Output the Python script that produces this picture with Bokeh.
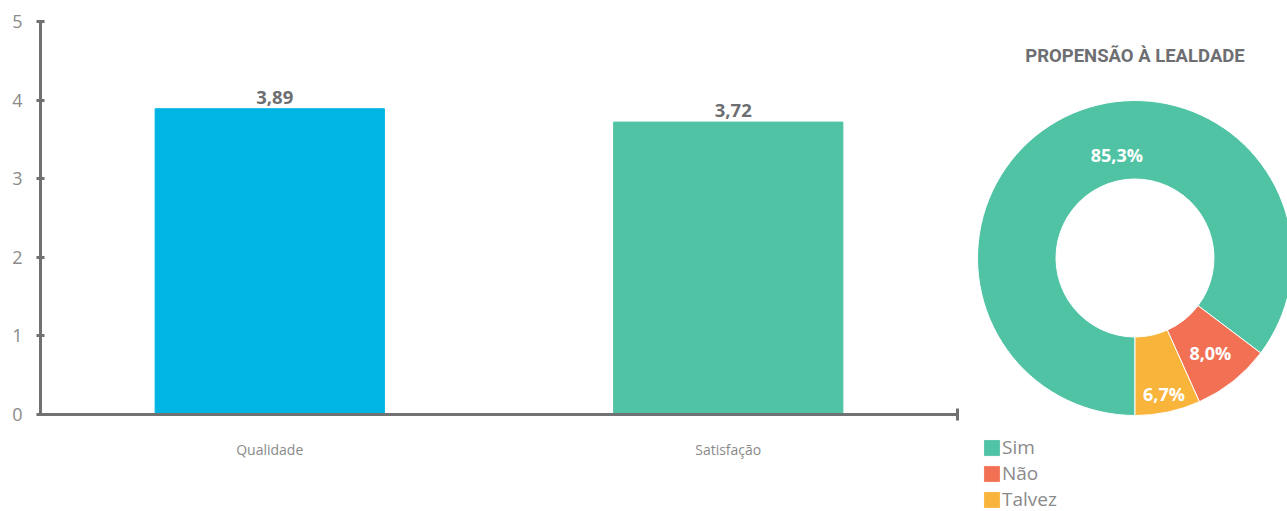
import numpy as np
from bokeh.plotting import figure
from bokeh.layouts import row, column
from bokeh.models import (Range1d, FixedTicker, ColumnDataSource, Label, Legend, LegendItem, LinearAxis)
from bokeh.core.properties import value
from bokeh.embed import file_html
from bokeh.resources import INLINE

# ---- data ----
categories = ["Qualidade", "Satisfação"]
scores = [3.89, 3.72]
y_ticks = [0, 1, 2, 3, 4, 5]

pie_title = "PROPENSÃO À LEALDADE"
pie_labels = ["Sim", "Não", "Talvez"]
pie_values = [85.3, 8.0, 6.7]

# ---- style ----
bar_colors = ["#00b4e4", "#50c3a5"]
pie_colors = ["#50c3a5", "#f27155", "#f9b43b"]
axis_gray = "#707173"
text_gray = "#6d6e71"
light_gray = "#8a8a8a"
FONT = "Open Sans"

TOP, BOTTOM = 21, 97

# ---------------- bar chart ----------------
n = len(categories)
xs = [i + 0.5 for i in range(n)]
p = figure(width=970, height=511, output_backend="svg", toolbar_location=None,
           x_range=Range1d(0, n), y_range=Range1d(0, 5),
           min_border_left=40, min_border_right=13, min_border_top=TOP, min_border_bottom=BOTTOM)
p.outline_line_color = None
p.grid.visible = False
p.xaxis.visible = False
p.yaxis.visible = False

src = ColumnDataSource(dict(x=xs, top=scores, color=bar_colors,
                            lab=[f"{v:.2f}".replace(".", ",") for v in scores]))
p.vbar(x="x", top="top", width=0.5, color="color", source=src)
p.text(x="x", y="top", text="lab", source=src, text_align="center", text_baseline="bottom",
       y_offset=-5, x_offset=5, text_font=value(FONT), text_font_style="bold",
       text_font_size="18.5px", text_color=text_gray)

ya = LinearAxis(ticker=FixedTicker(ticks=y_ticks))
ya.axis_line_color = axis_gray
ya.axis_line_width = 3
ya.major_tick_line_color = axis_gray
ya.major_tick_line_width = 3
ya.major_tick_in = 4
ya.major_tick_out = 4
ya.minor_tick_line_color = None
ya.major_label_standoff = 14
ya.major_label_text_font = FONT
ya.major_label_text_font_size = "18px"
ya.major_label_text_color = light_gray
p.add_layout(ya, "left")

xa = LinearAxis(ticker=FixedTicker(ticks=xs, minor_ticks=[n]))
xa.major_label_overrides = {x: c for x, c in zip(xs, categories)}
xa.axis_line_color = axis_gray
xa.axis_line_width = 3
xa.major_tick_line_color = None
xa.major_tick_in = 0
xa.major_tick_out = 0
xa.minor_tick_line_color = axis_gray
xa.minor_tick_line_width = 3
xa.minor_tick_in = 6
xa.minor_tick_out = 6
xa.major_label_standoff = 19
xa.major_label_text_font = FONT
xa.major_label_text_font_size = "14px"
xa.major_label_text_color = light_gray
p.add_layout(xa, "below")

# ---------------- donut ----------------
W2, H2 = 317, 511
q = figure(width=W2, height=H2, output_backend="svg", toolbar_location=None,
           x_range=Range1d(0, W2), y_range=Range1d(0, H2),
           x_axis_type=None, y_axis_type=None, min_border=0)
q.outline_line_color = None
q.grid.visible = False

cx, cy = 164.5, 253.5
r_out, r_in = 157.5, 79

vals = np.array(pie_values)
frac = vals / vals.sum() * 2 * np.pi
# drawn from 6 o'clock anticlockwise: last item first
start = np.zeros(len(vals)); end = np.zeros(len(vals))
a = -np.pi / 2
for i in reversed(range(len(vals))):
    start[i] = a
    a += frac[i]
    end[i] = a

dsrc = ColumnDataSource(dict(start=start, end=end, color=pie_colors, name=pie_labels))
wr = q.annular_wedge(x=cx, y=cy, inner_radius=r_in, outer_radius=r_out,
                     start_angle="start", end_angle="end", color="color",
                     line_color="white", line_width=1, source=dsrc)

lab_shift = np.radians([-16.5, 0, 0])
lab_r = [105, 121, 139]
mid = (start + end) / 2 + lab_shift
lsrc = ColumnDataSource(dict(x=cx + np.array(lab_r) * np.cos(mid),
                             y=cy + np.array(lab_r) * np.sin(mid),
                             t=[f"{v:.1f}".replace(".", ",") + "%" for v in pie_values]))
q.text(x="x", y="y", text="t", source=lsrc, text_align="center", text_baseline="middle",
       text_font=value(FONT), text_font_style="bold", text_font_size="18px", text_color="white")

q.add_layout(Label(x=164.5, y=H2 - 55, text=pie_title, text_align="center", text_baseline="middle",
                   text_font="Roboto", text_font_style="bold", text_font_size="18.5px",
                   text_color=text_gray))

legend = Legend(items=[LegendItem(label=l, renderers=[wr], index=i) for i, l in enumerate(pie_labels)],
                location=(11, -1), orientation="vertical", padding=0, margin=0, spacing=0,
                glyph_width=21, glyph_height=21, label_standoff=0,
                label_text_font=FONT, label_text_font_size="19px", label_text_color=light_gray,
                background_fill_alpha=0, border_line_color=None, label_height=21)
q.add_layout(legend)

layout = row(p, column(q), spacing=0)
open("out.html", "w").write(file_html(layout, INLINE))
